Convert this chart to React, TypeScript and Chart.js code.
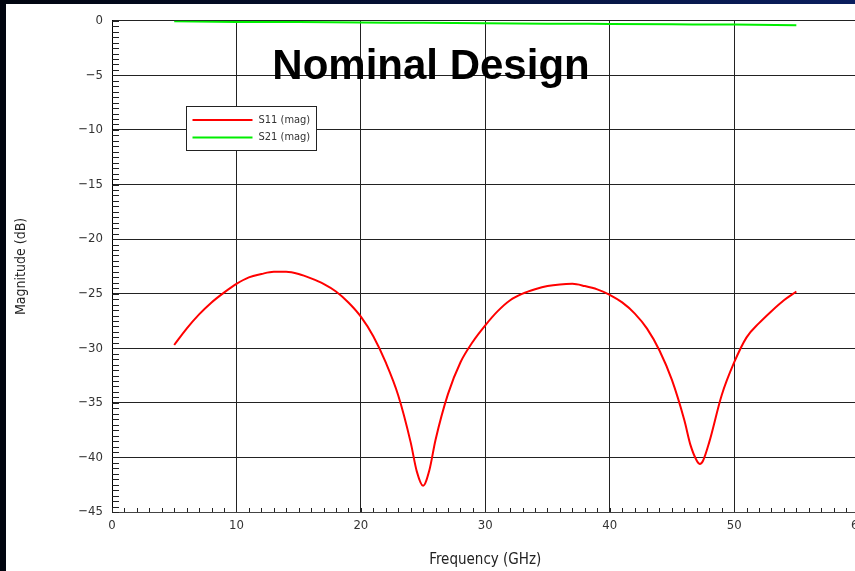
import React, { useEffect, useRef } from 'react';
import { Chart, registerables } from 'chart.js';

Chart.register(...registerables);

// ---- data ----
const s11Freq = [5, 6, 7, 8, 9, 10, 11, 12, 13, 14, 15, 16, 17, 18, 19, 20, 21, 22, 23, 24, 24.5, 25, 25.5, 26, 27, 28, 29, 30, 31, 32, 33, 34, 35, 36, 37, 38, 39, 40, 41, 42, 43, 44, 45, 46, 46.5, 47, 47.25, 47.5, 48, 49, 50, 51, 52, 53, 54, 55];
const s11Mag = [-29.7, -28.2, -26.9, -25.8, -24.9, -24.1, -23.5, -23.2, -23.0, -23.0, -23.2, -23.6, -24.1, -24.8, -25.8, -27.1, -28.9, -31.3, -34.3, -38.6, -41.3, -42.6, -41.2, -38.4, -34.2, -31.3, -29.4, -27.9, -26.6, -25.6, -25.0, -24.6, -24.3, -24.15, -24.1, -24.3, -24.6, -25.1, -25.8, -26.8, -28.2, -30.2, -32.9, -36.6, -38.9, -40.3, -40.6, -40.3, -38.6, -34.3, -31.3, -29.0, -27.7, -26.6, -25.6, -24.8];

const s21Freq = [5, 10, 15, 20, 25, 30, 35, 40, 45, 50, 55];
const s21Mag = [-0.05, -0.1, -0.12, -0.15, -0.19, -0.22, -0.26, -0.29, -0.32, -0.35, -0.41];

const seriesLabels = ['S11 (mag)', 'S21 (mag)'];
const seriesColors = ['#ff0000', '#00ee00'];

const titleText = 'Nominal Design';
const xTitle = 'Frequency (GHz)';
const yTitle = 'Magnitude (dB)';

const xMin = 0, xMax = 60, xStep = 10, xMinorStep = 1;
const yMin = -45, yMax = 0, yStep = 5, yMinorStep = 0.5;

const labelFont = '"DejaVu Sans Condensed", "Liberation Sans Narrow", "DejaVu Sans", sans-serif';

const overlayPlugin = {
  id: 'overlay',
  afterDraw(chart: any) {
    const { ctx, chartArea, scales } = chart;
    const xs = scales.x, ys = scales.y;
    ctx.save();
    // minor ticks
    ctx.strokeStyle = '#222';
    ctx.lineWidth = 1;
    ctx.beginPath();
    for (let v = yMin; v <= yMax + 1e-9; v += yMinorStep) {
      const py = Math.round(ys.getPixelForValue(v)) + 0.5;
      ctx.moveTo(chartArea.left, py);
      ctx.lineTo(chartArea.left + 7, py);
    }
    for (let v = xMin; v <= xMax + 1e-9; v += xMinorStep) {
      const px = Math.round(xs.getPixelForValue(v)) + 0.5;
      ctx.moveTo(px, chartArea.bottom);
      ctx.lineTo(px, chartArea.bottom - 4);
    }
    ctx.stroke();

    // title
    ctx.fillStyle = '#000';
    ctx.font = 'bold 42px "Liberation Sans", Arial, sans-serif';
    ctx.textAlign = 'center';
    ctx.textBaseline = 'alphabetic';
    ctx.fillText(titleText, chartArea.left + 319, chartArea.top + 58.5);

    // legend box
    const bx = Math.round(chartArea.left + 74) + 0.5;
    const by = Math.round(chartArea.top + 85.5) + 0.5;
    const bw = 130, bh = 44;
    ctx.fillStyle = '#fff';
    ctx.fillRect(bx, by, bw, bh);
    ctx.strokeStyle = '#222';
    ctx.lineWidth = 1;
    ctx.strokeRect(bx, by, bw, bh);
    const rows = [by + 13.5, by + 31];
    ctx.font = '11px ' + labelFont;
    ctx.textAlign = 'left';
    ctx.textBaseline = 'middle';
    chart.data.datasets.forEach((ds: any, i: number) => {
      ctx.strokeStyle = ds.borderColor;
      ctx.lineWidth = 2;
      ctx.beginPath();
      ctx.moveTo(bx + 6, rows[i]);
      ctx.lineTo(bx + 66, rows[i]);
      ctx.stroke();
      ctx.fillStyle = '#333';
      ctx.fillText(ds.label, bx + 72, rows[i]);
    });
    ctx.restore();
  },
};

export default function App() {
  const ref = useRef<HTMLCanvasElement | null>(null);
  useEffect(() => {
    if (!ref.current) return;
    const chart = new Chart(ref.current, {
      type: 'line',
      data: {
        datasets: [
          {
            label: seriesLabels[0],
            data: s11Freq.map((f, i) => ({ x: f, y: s11Mag[i] })),
            borderColor: seriesColors[0],
            borderWidth: 2,
            pointRadius: 0,
            cubicInterpolationMode: 'monotone',
          },
          {
            label: seriesLabels[1],
            data: s21Freq.map((f, i) => ({ x: f, y: s21Mag[i] })),
            borderColor: seriesColors[1],
            borderWidth: 2,
            pointRadius: 0,
            cubicInterpolationMode: 'monotone',
          },
        ],
      },
      options: {
        animation: false,
        responsive: false,
        layout: { padding: { top: 15.5, right: 8, left: 0, bottom: 0 } },
        plugins: { legend: { display: false }, tooltip: { enabled: false }, title: { display: false } },
        scales: {
          x: {
            type: 'linear',
            min: xMin,
            max: xMax,
            ticks: { stepSize: xStep, padding: 6, color: '#333', font: { family: labelFont, size: 13 }, maxRotation: 0 },
            grid: { color: '#222', lineWidth: 1, drawTicks: false },
            border: { color: '#444', width: 1 },
            title: { display: true, text: xTitle, color: '#222', font: { family: labelFont, size: 15 }, padding: { top: 2, bottom: 2 } },
            afterFit: (s: any) => { s.height = 59; },
          },
          y: {
            type: 'linear',
            min: yMin,
            max: yMax,
            ticks: {
              stepSize: yStep,
              padding: 9,
              color: '#333',
              font: { family: labelFont, size: 13 },
              callback: (v: any) => String(v).replace('-', '\u2212'),
            },
            grid: { color: '#222', lineWidth: 1, drawTicks: false },
            border: { color: '#000', width: 1 },
            title: { display: true, text: yTitle, color: '#222', font: { family: labelFont, size: 14 }, padding: { top: 7, bottom: 7 } },
            afterFit: (s: any) => { s.width = 106; },
          },
        },
      },
      plugins: [overlayPlugin],
    } as any);
    return () => chart.destroy();
  }, []);

  return (
    <div
      style={{
        position: 'fixed',
        left: 0,
        top: 0,
        width: 855,
        height: 571,
        overflow: 'hidden',
        background: 'linear-gradient(to right, #01050f, #0a1e5e)',
      }}
    >
      <div style={{ position: 'absolute', left: 6, top: 4, width: 866, height: 567, background: '#fff' }}>
        <canvas ref={ref} width={866} height={567} style={{ width: 866, height: 567, display: 'block' }} />
      </div>
    </div>
  );
}
